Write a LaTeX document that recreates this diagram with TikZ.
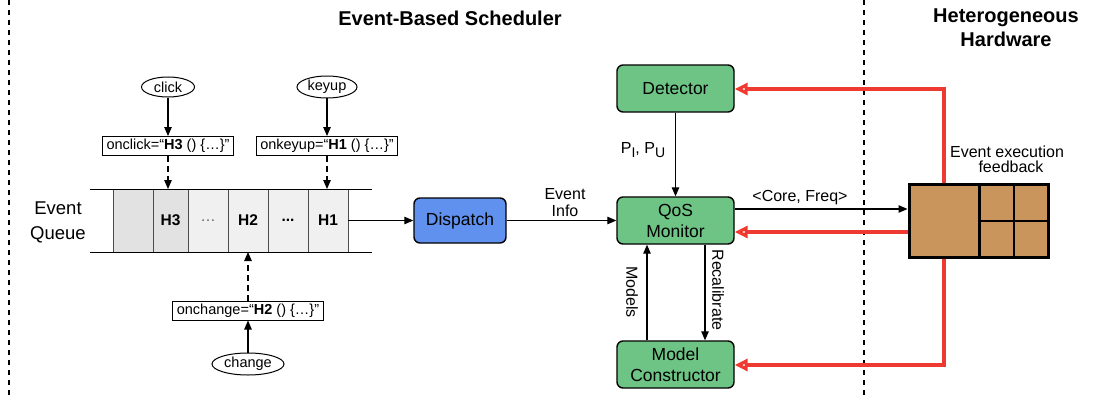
\documentclass[tikz,border=0pt]{standalone}
\usepackage{fontspec}
\setmainfont{Liberation Sans}
\usetikzlibrary{arrows.meta,calc,shapes.geometric}
\definecolor{boxgreen}{RGB}{109,196,132}
\definecolor{boxblue}{RGB}{96,145,238}
\definecolor{hwbrown}{RGB}{201,149,92}
\definecolor{fbred}{RGB}{238,58,48}
\definecolor{cellA}{RGB}{226,226,226}
\definecolor{cellB}{RGB}{240,240,240}
\newcommand{\fs}[1]{\fontsize{#1}{#1}\selectfont}
\tikzset{
  blk/.style={draw=black,line width=1.4pt,rounded corners=6pt,minimum width=117pt,minimum height=47pt,align=center,font=\fontsize{17.5}{21}\selectfont,inner sep=0pt},
  gbox/.style={blk,fill=boxgreen},
  evt/.style={draw=black,line width=1pt,ellipse,inner sep=1pt,font=\fs{14.5}},
  hnd/.style={draw=black,line width=1pt,inner xsep=4pt,inner ysep=2.5pt,minimum height=19pt,font=\fs{14.5}},
  cell/.style={draw=black!70,line width=0.6pt,minimum height=63pt,inner sep=0pt,font=\fs{15.5}\bfseries},
  arr/.style={-{Triangle[length=9pt,width=7.5pt]},line width=1.1pt},
  darr/.style={arr,dash pattern=on 6pt off 4pt},
  red/.style={draw=fbred,line width=3.2pt,-{Triangle[open,length=13pt,width=12pt,fill=white]},line cap=butt},
  sep/.style={line width=1.1pt,dash pattern=on 5pt off 5pt},
  lbl/.style={font=\fs{16},align=center,inner sep=0pt},
}
\begin{document}
\begin{tikzpicture}[x=1pt,y=-1pt]
\useasboundingbox (0,0) rectangle (1115,396);
% separators
\coordinate (s1t) at (9,0); \coordinate (s1b) at (9,396);
\coordinate (s2t) at (864,0); \coordinate (s2b) at (864,396);
\draw[sep] (s1t) -- (s1b);
\draw[sep] (s2t) -- (s2b);
% titles
\node[font=\fs{20}\bfseries] (t1) at (450,18) {Event-Based Scheduler};
\node[font=\fs{20}\bfseries,align=center] (t2) at (1006,28) {Heterogeneous\\[4pt]Hardware};
% queue
\coordinate (qtl) at (90,189); \coordinate (qtr) at (372,189);
\coordinate (qbl) at (90,252); \coordinate (qbr) at (372,252);
\node[cell,fill=cellA,minimum width=40pt] (c0) at (133,220.5) {};
\node[cell,fill=cellA,minimum width=35pt] (c1) at (170.5,220.5) {H3};
\node[cell,fill=cellB,minimum width=40pt,font=\fs{15.5}\color{black!60}] (c2) at (208,220.5) {…};
\node[cell,fill=cellB,minimum width=40pt] (c3) at (248,220.5) {H2};
\node[cell,fill=cellB,minimum width=40pt] (c4) at (288,220.5) {...};
\node[cell,fill=cellB,minimum width=40pt] (c5) at (328,220.5) {H1};
\draw[line width=1pt] (qtl) -- (qtr);
\draw[line width=1pt] (qbl) -- (qbr);
\node[font=\fontsize{18.5}{25}\selectfont,align=center] (eq) at (58,222) {Event\\Queue};
% events
\node[evt,minimum width=53pt,minimum height=20pt] (click) at (168,87) {click};
\node[evt,minimum width=60pt,minimum height=20pt] (keyup) at (327,87) {keyup};
\node[evt,minimum width=72pt,minimum height=22pt] (change) at (248,364) {change};
\node[hnd] (onclick) at (168,146) {onclick=“\textbf{H3} () \{…\}”};
\node[hnd] (onkeyup) at (327,146) {onkeyup=“\textbf{H1} () \{…\}”};
\node[hnd] (onchange) at (248,310.5) {onchange=“\textbf{H2} () \{…\}”};
\draw[arr] (click) -- (onclick);
\draw[arr] (keyup) -- (onkeyup);
\draw[arr] (change) -- (onchange);
\draw[darr] (onclick) -- (onclick|-qtl);
\draw[darr] (onkeyup) -- (onkeyup|-qtl);
\draw[darr] (onchange) -- (onchange|-qbl);
% main blocks
\node[blk,fill=boxblue,minimum width=92pt,minimum height=45pt] (disp) at (460,220.5) {Dispatch};
\node[gbox] (det) at (675.5,88.5) {Detector};
\node[gbox] (qos) at (675.5,220.5) {QoS\\Monitor};
\node[gbox] (mc) at (675.5,364.5) {Model\\Constructor};
\draw[arr] (c5.east) -- (disp.west);
\draw[arr] (disp.east) -- (qos.west);
\node[lbl] (ei) at (565,203) {Event\\[1pt]Info};
\draw[arr] (det) -- (qos);
\node[lbl] (pp) at (643,150) {P\raisebox{-4pt}{\fs{14}I}, P\raisebox{-4pt}{\fs{14}U}};
\coordinate (mo1) at (647,0); \coordinate (re1) at (705,0);
\draw[arr] (mc.north -| mo1) -- (qos.south -| mo1);
\draw[arr] (qos.south -| re1) -- (mc.north -| re1);
\node[lbl,rotate=-90] (mlab) at (632,292) {Models};
\node[lbl,rotate=-90] (rlab) at (718,290) {Recalibrate};
% hardware
\node[draw=black,line width=3pt,fill=hwbrown,minimum width=139pt,minimum height=73pt,inner sep=0pt] (hw) at (978.5,220.5) {};
\coordinate (hv1t) at (979,184); \coordinate (hv1b) at (979,257);
\coordinate (hv2t) at (1014,184); \coordinate (hv2b) at (1014,257);
\coordinate (hhl) at (979,221); \coordinate (hhr) at (1048,221);
\draw[line width=3pt] (hv1t) -- (hv1b);
\draw[line width=2.5pt] (hv2t) -- (hv2b);
\draw[line width=2.5pt] (hhl) -- (hhr);
\coordinate (core) at (0,209);
\draw[arr] (qos.east |- core) -- (hw.west |- core);
\node[lbl] (cf) at (800,198) {<Core, Freq>};
% red feedback
\coordinate (fx) at (944,0);
\coordinate (ftop) at (944,89);
\coordinate (fbot) at (944,365);
\coordinate (fmid) at (0,232);
\draw[red] (hw.north -| fx) -- (ftop) -- (det.east |- ftop);
\draw[red] (hw.west |- fmid) -- (qos.east |- fmid);
\draw[red] (hw.south -| fx) -- (fbot) -- (mc.east |- fbot);
\node[lbl,align=center] (fb) at (1007,159) {Event execution\\[-1pt]\hspace*{8pt}feedback};
\end{tikzpicture}
\end{document}
